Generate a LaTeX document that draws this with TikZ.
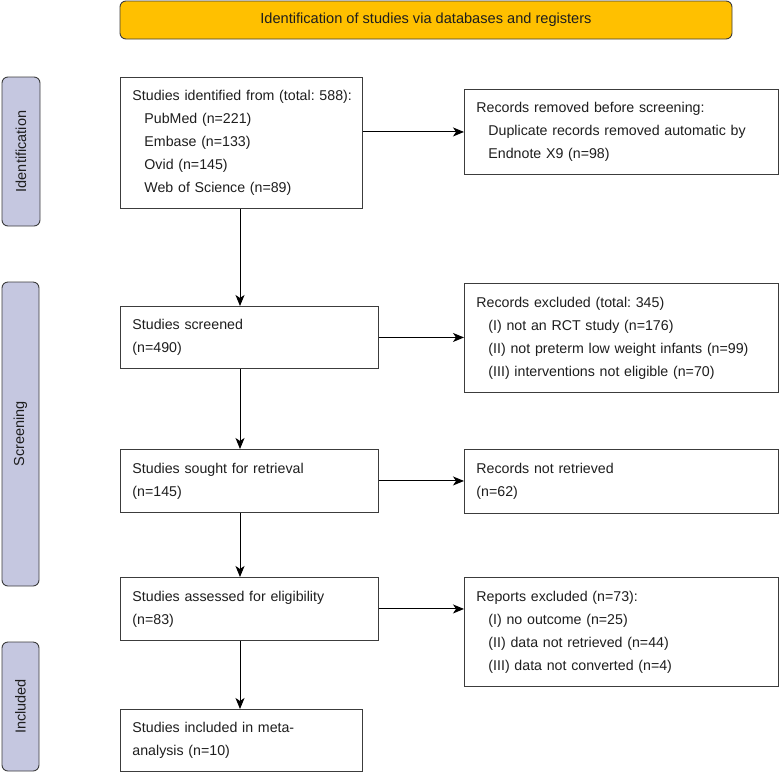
\documentclass[tikz,border=0pt]{standalone}
\usepackage{fontspec}
\setmainfont{Liberation Sans}
\usetikzlibrary{arrows.meta}
\definecolor{bannerfill}{RGB}{255,192,0}
\definecolor{phasefill}{RGB}{197,199,224}
\definecolor{linegray}{RGB}{60,60,60}
\definecolor{textgray}{RGB}{30,30,30}
\frenchspacing
\begin{document}
\begin{tikzpicture}[x=1pt,y=-1pt,
  box/.style={draw=linegray, line width=0.9pt, fill=white, anchor=north west,
    inner xsep=12pt, inner ysep=0pt, align=left,
    font=\fontsize{14.2}{23}\selectfont, text=textgray},
  phase/.style={draw=linegray, line width=0.9pt, fill=phasefill, rounded corners=6pt,
    rotate=90, anchor=center, inner sep=0pt,
    font=\fontsize{14.5}{16}\selectfont, text=textgray},
  banner/.style={draw=linegray, line width=0.9pt, fill=bannerfill, rounded corners=6pt,
    anchor=center, inner sep=0pt, font=\fontsize{14.6}{16}\selectfont, text=textgray},
  arr/.style={draw=black, line width=1pt, -{Stealth[length=11pt,width=9pt,inset=3pt]}}
]
\useasboundingbox (0,0) rectangle (779,772);

% banner and phase labels
\node[banner, minimum width=612pt, minimum height=38pt] (ban) at (426,20) {Identification of studies via databases and registers};
\node[phase, minimum width=149pt, minimum height=38pt] (pid) at (21,151.5) {Identification};
\node[phase, minimum width=304pt, minimum height=37pt] (pscr) at (20.5,434) {Screening};
\node[phase, minimum width=129pt, minimum height=37pt] (pinc) at (20.5,706.5) {Included};

% main column
\node[box, text width=218pt, minimum height=131pt] (b1) at (120,77) {\mbox{Studies identified from (total: 588):}\\
\hspace*{12pt}PubMed (n=221)\\
\hspace*{12pt}Embase (n=133)\\
\hspace*{12pt}Ovid (n=145)\\
\hspace*{12pt}Web of Science (n=89)};
\node[box, text width=234pt, minimum height=62pt] (b2) at (120,306) {Studies screened\\(n=490)};
\node[box, text width=234pt, minimum height=63pt] (b3) at (120,449) {Studies sought for retrieval\\(n=145)};
\node[box, text width=234pt, minimum height=63pt] (b4) at (120,577) {Studies assessed for eligibility\\(n=83)};
\node[box, text width=218pt, minimum height=62pt] (b5) at (120,709) {Studies included in meta-\\analysis (n=10)};

% right column
\node[box, text width=290pt, minimum height=85pt] (r1) at (464,89) {Records removed before screening:\\
\hspace*{12pt}Duplicate records removed automatic by\\
\hspace*{12pt}Endnote X9 (n=98)};
\node[box, text width=290pt, minimum height=109pt] (r2) at (464,283) {Records excluded (total: 345)\\
\hspace*{12pt}(I) not an RCT study (n=176)\\
\hspace*{12pt}(II) not preterm low weight infants (n=99)\\
\hspace*{12pt}(III) interventions not eligible (n=70)};
\node[box, text width=290pt, minimum height=64pt] (r3) at (464,449) {Records not retrieved\\(n=62)};
\node[box, text width=290pt, minimum height=109pt] (r4) at (464,577) {Reports excluded (n=73):\\
\hspace*{12pt}(I) no outcome (n=25)\\
\hspace*{12pt}(II) data not retrieved (n=44)\\
\hspace*{12pt}(III) data not converted (n=4)};

% connectors
\coordinate (ax) at (240,0);
\draw[arr] (b1.south -| ax) -- (b2.north -| ax);
\draw[arr] (b2.south -| ax) -- (b3.north -| ax);
\draw[arr] (b3.south -| ax) -- (b4.north -| ax);
\draw[arr] (b4.south -| ax) -- (b5.north -| ax);

\draw[arr] (b1.east |- r1.west) -- (r1.west);
\draw[arr] (b2.east) -- (b2.east -| r2.west);
\draw[arr] (b3.east) -- (b3.east -| r3.west);
\draw[arr] (b4.east) -- (b4.east -| r4.west);
\end{tikzpicture}
\end{document}
